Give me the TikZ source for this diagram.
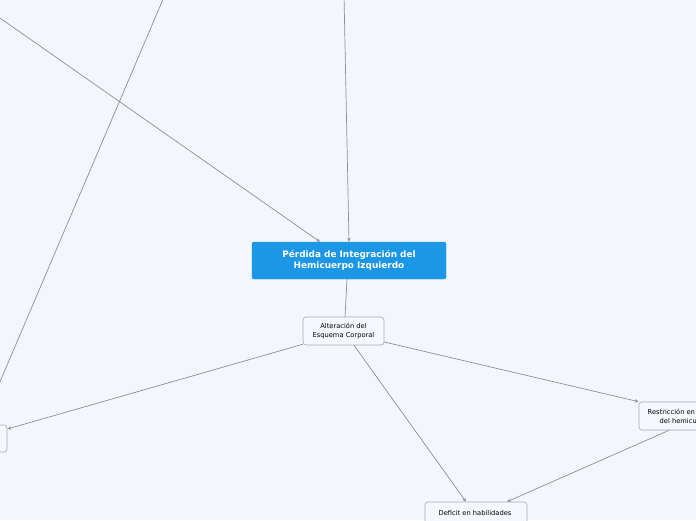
\documentclass[tikz,border=0pt]{standalone}
\usepackage{fontspec}
\setmainfont{DejaVu Sans}
\usetikzlibrary{arrows.meta}
\definecolor{bgc}{HTML}{F3F6FD}
\definecolor{mainblue}{HTML}{1B97E5}
\definecolor{linec}{HTML}{8C9099}
\definecolor{boxline}{HTML}{A6AAB2}
\definecolor{boxfill}{HTML}{F6F8FE}
\tikzset{
  mainbox/.style={draw=mainblue, fill=mainblue, rounded corners=2pt, text=white,
    font=\fontsize{8.9}{11}\selectfont\bfseries, align=center, inner sep=0pt,
    minimum width=194pt, minimum height=37pt},
  subbox/.style={draw=boxline, fill=boxfill, rounded corners=3pt, line width=0.6pt,
    inner sep=0pt, align=center, font=\fontsize{6.7}{9}\selectfont},
  lbl/.style={inner sep=0pt, font=\fontsize{6.7}{9}\selectfont, align=left},
  conn/.style={draw=linec, line width=0.7pt},
  arr/.style={conn, -{Stealth[length=4pt,width=3.5pt]}}
}
\begin{document}
\begin{tikzpicture}[x=1pt,y=-1pt]
\fill[bgc] (0,0) rectangle (696,520);
\useasboundingbox (0,0) rectangle (696,520);
% nodes
\node[mainbox] (c) at (349,260.5) {Pérdida de Integración del\\Hemicuerpo Izquierdo};
\node[subbox, minimum width=81pt, minimum height=28pt] (alt) at (343.5,331) {Alteración del\\Esquema Corporal};
\node[subbox, minimum width=100pt, minimum height=28pt] (rbox) at (689,416) {};
\node[lbl, anchor=west] (rtext) at (647.5,416) {Restricción en\\\hspace*{12pt}del hemicu};
\node[subbox, minimum width=102pt, minimum height=40pt] (dbox) at (476,522) {};
\node[lbl, anchor=center] (dtext) at (475,512.5) {Deficit en habilidades};
\node[subbox, minimum width=87pt, minimum height=27pt] (left) at (-36.5,438.5) {};
% free ends of connectors coming from outside the picture
\coordinate (t1) at (-30,-2.9);
\coordinate (t2) at (344,-5);
\coordinate (t3) at (164,-3);
% connectors
\draw[arr] (t1) -- ([xshift=-29pt]c.north);
\draw[arr] (t2) -- (c.north);
\draw[arr] (t3) -- ([xshift=18.2pt]left.north);
\draw[conn] ([xshift=-2pt]c.south) -- ([xshift=1.5pt]alt.north);
\draw[arr] ([yshift=1pt]alt.south west) -- ([yshift=9.5pt]left.east);
\draw[arr] ([xshift=10.5pt]alt.south) -- ([xshift=-10pt]dbox.north);
\draw[arr] ([yshift=-11pt]alt.east) -- (rbox.north west);
\draw[arr] ([xshift=-20pt]rbox.south) -- ([xshift=31pt]dbox.north);
\end{tikzpicture}
\end{document}
